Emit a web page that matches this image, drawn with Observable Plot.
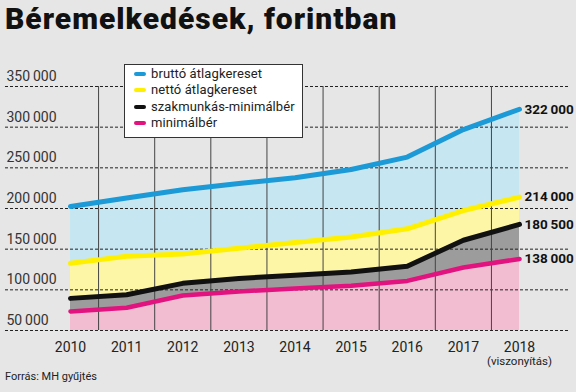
<!DOCTYPE html>
<html>
<head>
<meta charset="utf-8">
<script src="https://cdn.jsdelivr.net/npm/d3@7"></script>
<script src="https://cdn.jsdelivr.net/npm/@observablehq/plot@0.6"></script>
<style>
  html, body { margin: 0; padding: 0; background: #e6e6e6; width: 576px; height: 392px; overflow: hidden; }
  #title { font-family: Roboto, "Liberation Sans", sans-serif; font-weight: 900; font-size: 30px; color: #111;
           height: 40px; line-height: 38px; padding-left: 5px; letter-spacing: 1px; white-space: nowrap; }
  #chart { position: relative; height: 328px; }
  #legend { position: absolute; left: 124px; top: 24px; width: 177px; height: 72px; background: #fff;
            border: 1px solid #333; font-family: Roboto, "Liberation Sans", sans-serif; font-size: 13px; color: #222; letter-spacing: 0.1px; }
  #legend div { position: absolute; left: 26px; height: 16px; line-height: 16px; white-space: nowrap; }
  #legend span.sw { position: absolute; left: -17px; top: 6px; width: 12px; height: 4px; border-radius: 2px; }
  #footer { font-family: Roboto, "Liberation Sans", sans-serif; font-size: 11px; color: #222; padding-left: 5px; line-height: 18px; }
</style>
</head>
<body>
<div id="title">Béremelkedések, forintban</div>
<div id="chart"></div>
<div id="footer">Forrás: MH gyűjtés</div>
<script>
const years = [2010, 2011, 2012, 2013, 2014, 2015, 2016, 2017, 2018];
const brutto = [202500, 213000, 223000, 230700, 237700, 247900, 263200, 297000, 322000];
const netto = [132600, 141200, 144100, 151100, 158100, 164900, 175000, 197500, 214000];
const szakmunkas = [89500, 94000, 108000, 114000, 118000, 122000, 129000, 161000, 180500];
const minimal = [73500, 78000, 93000, 98000, 101500, 105000, 111000, 127500, 138000];
const seriesNames = ["bruttó átlagkereset", "nettó átlagkereset", "szakmunkás-minimálbér", "minimálbér"];
const yTicks = [50000, 100000, 150000, 200000, 250000, 300000, 350000];
const endLabels = ["322000", "214000", "180500", "138000"];
const xLabels = ["2010", "2011", "2012", "2013", "2014", "2015", "2016", "2017", "2018"];
const note2018 = "(viszonyítás)";

const lineColors = ["#1b9ad7", "#fff000", "#111111", "#e2127f"];
const fillColors = ["#c6e6f2", "#fdf6a6", "#9c9c9c", "#f2bcd1"];
const widths = [5, 5, 5, 4.5];

const seriesValues = [brutto, netto, szakmunkas, minimal];
const series = seriesNames.map((name, i) => ({
  name, color: lineColors[i], fill: fillColors[i], width: widths[i],
  data: years.map((year, j) => ({year, v: seriesValues[i][j]}))
}));

const fmt = n => d3.format(",")(n).replace(/,/g, "\u2009");
const mids = d3.pairs(years).map(([a, b]) => (a + b) / 2);
const yBase = yTicks[0];
const yTop = yTicks[yTicks.length - 1];
const lastYear = years[years.length - 1];

const marks = [];
series.forEach(s => marks.push(Plot.areaY(s.data, {x: "year", y1: yBase, y2: "v", fill: s.fill})));
marks.push(Plot.ruleY(yTicks, {stroke: "#222", strokeWidth: 1, strokeDasharray: "3,2"}));
marks.push(Plot.ruleX(mids, {y1: yBase, y2: yTop, stroke: "#444", strokeWidth: 1}));
series.slice().reverse().forEach(s => marks.push(Plot.line(s.data, {x: "year", y: "v", stroke: s.color, strokeWidth: s.width, strokeLinecap: "round", strokeLinejoin: "round"})));
marks.push(Plot.text(yTicks, {y: d => d, text: d => fmt(d), frameAnchor: "left", textAnchor: "start", dx: 1, dy: -10, fontSize: 14, fill: "#333"}));
marks.push(Plot.text(years, {x: d => d, text: (d, i) => xLabels[i], frameAnchor: "bottom", dy: 21, fontSize: 14, fill: "#222"}));
marks.push(Plot.text([lastYear], {x: d => d, text: [note2018], frameAnchor: "bottom", dy: 34, fontSize: 11.5, fill: "#222"}));
marks.push(Plot.text(series, {x: () => lastYear, y: s => s.data[s.data.length - 1].v, text: (s, i) => fmt(+endLabels[i]), textAnchor: "start", dx: 5, fontSize: 13.5, fontWeight: "bold", fill: "#111"}));

const plot = Plot.plot({
  width: 576,
  height: 328,
  marginLeft: 5,
  marginRight: 7,
  marginTop: 46,
  marginBottom: 38,
  style: {background: "transparent", fontFamily: "Roboto, 'Liberation Sans', sans-serif", overflow: "visible"},
  x: {domain: [years[0], lastYear], range: [70, 519], axis: null},
  y: {domain: [yBase, yTop], axis: null},
  marks
});
const chart = document.getElementById("chart");
chart.appendChild(plot);

const legend = document.createElement("div");
legend.id = "legend";
series.forEach((s, i) => {
  const row = document.createElement("div");
  row.style.top = (1 + i * 16.3) + "px";
  const sw = document.createElement("span");
  sw.className = "sw";
  sw.style.background = s.color;
  row.appendChild(sw);
  row.appendChild(document.createTextNode(s.name));
  legend.appendChild(row);
});
chart.appendChild(legend);
</script>
</body>
</html>
